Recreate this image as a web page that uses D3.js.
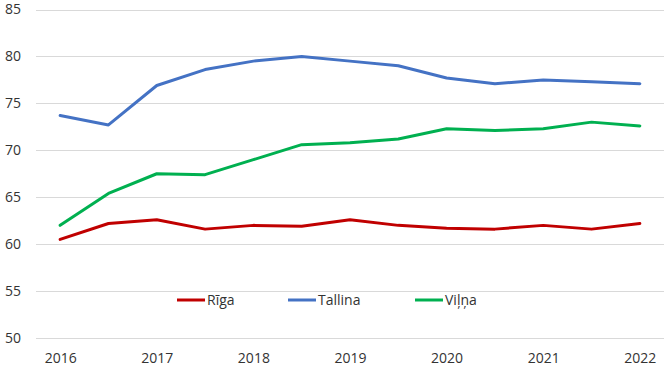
<!DOCTYPE html>
<html><head><meta charset="utf-8">
<script src="https://cdn.jsdelivr.net/npm/d3@7"></script>
<style>body{margin:0;background:#fff}svg{display:block;font-family:"Open Sans",sans-serif}</style>
</head><body><svg id="c" width="665" height="371"></svg>
<script>
const periods = ["2016","2016.5","2017","2017.5","2018","2018.5","2019","2019.5","2020","2020.5","2021","2021.5","2022"];
const xLabels = ["2016","","2017","","2018","","2019","","2020","","2021","","2022"];
const riga    = [60.5,62.2,62.6,61.6,62.0,61.9,62.6,62.0,61.7,61.6,62.0,61.6,62.2];
const tallina = [73.7,72.7,76.9,78.6,79.5,80.0,79.5,79.0,77.7,77.1,77.5,77.3,77.1];
const vilna   = [62.0,65.4,67.5,67.4,69.0,70.6,70.8,71.2,72.3,72.1,72.3,73.0,72.6];
const yTicks  = [50,55,60,65,70,75,80,85];
const seriesNames = ["Rīga","Tallina","Viļņa"];
const colors = ["#C00000","#4472C4","#00B050"];

(function(){
const svg = d3.select("#c");
const mL = 36, mR = 664, mT = 9.5, mB = 338;
const x = d3.scalePoint().domain(periods).range([mL, mR]).padding(0.5);
const y = d3.scaleLinear().domain([50,85]).range([mB, mT]);
const txt = "#333333";

svg.append("g").selectAll("line").data(yTicks).join("line")
  .attr("x1", mL).attr("x2", mR)
  .attr("y1", d => Math.round(y(d))+0.5).attr("y2", d => Math.round(y(d))+0.5)
  .attr("stroke", "#D9D9D9").attr("stroke-width", 1);

const yAxis = svg.append("g").attr("transform", `translate(${mL},0)`)
  .call(d3.axisLeft(y).tickValues(yTicks).tickSize(0).tickPadding(15));
yAxis.select(".domain").remove();
yAxis.selectAll("text").attr("font-size", 14).attr("fill", txt).attr("font-family", "Open Sans");

const xAxis = svg.append("g").attr("transform", `translate(0,${mB})`)
  .call(d3.axisBottom(x).tickFormat((d,i) => xLabels[i]).tickSize(0).tickPadding(15));
xAxis.select(".domain").remove();
xAxis.selectAll("text").attr("font-size", 14).attr("fill", txt).attr("font-family", "Open Sans");

const data = [riga, tallina, vilna];
const line = d3.line().x((d,i) => x(periods[i])).y(d => y(d));
svg.append("g").selectAll("path").data(data).join("path")
  .attr("d", line).attr("fill", "none")
  .attr("stroke", (d,i) => colors[i]).attr("stroke-width", 3)
  .attr("stroke-linejoin", "round").attr("stroke-linecap", "round");

const legX = [177, 288, 415];
const lg = svg.append("g").selectAll("g").data(seriesNames).join("g")
  .attr("transform", (d,i) => `translate(${legX[i]},300)`);
lg.append("line").attr("x1", 0).attr("x2", 28).attr("y1", 0).attr("y2", 0)
  .attr("stroke", (d,i) => colors[i]).attr("stroke-width", 3);
lg.append("text").attr("x", 30).attr("y", 5).text(d => d)
  .attr("font-size", 14).attr("fill", txt);
})();
</script></body></html>
